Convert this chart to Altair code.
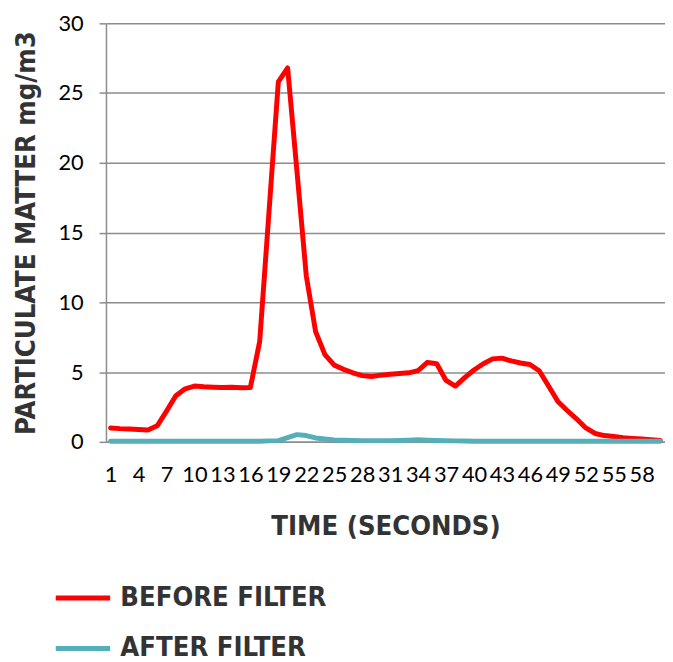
import altair as alt
import pandas as pd

time = list(range(1, 61))
before = [1.0, 0.95, 0.92, 0.88, 0.85, 1.15, 2.2, 3.3, 3.8, 4.0,
          3.95, 3.92, 3.9, 3.92, 3.88, 3.9, 7.2, 16.5, 25.8, 26.8,
          19.4, 11.9, 7.9, 6.25, 5.5, 5.2, 4.95, 4.75, 4.68, 4.78,
          4.85, 4.9, 4.95, 5.1, 5.7, 5.6, 4.4, 4.0, 4.6, 5.15,
          5.6, 5.95, 6.0, 5.8, 5.65, 5.55, 5.1, 4.0, 2.9, 2.25,
          1.65, 1.0, 0.6, 0.45, 0.38, 0.3, 0.25, 0.2, 0.15, 0.1]
after = [0.05, 0.05, 0.05, 0.05, 0.05, 0.05, 0.05, 0.05, 0.05, 0.05,
         0.05, 0.05, 0.05, 0.05, 0.05, 0.05, 0.05, 0.07, 0.09, 0.3,
         0.52, 0.45, 0.28, 0.2, 0.14, 0.12, 0.1, 0.09, 0.09, 0.09,
         0.09, 0.1, 0.12, 0.15, 0.12, 0.1, 0.08, 0.07, 0.06, 0.05,
         0.05, 0.05, 0.05, 0.05, 0.05, 0.05, 0.05, 0.05, 0.05, 0.05,
         0.05, 0.05, 0.05, 0.05, 0.05, 0.05, 0.05, 0.05, 0.05, 0.05]
series_names = ["BEFORE FILTER", "AFTER FILTER"]
series_colors = ["#FF0000", "#55AFB9"]
x_tick_values = list(range(1, 59, 3))
y_tick_values = [0, 5, 10, 15, 20, 25, 30]

df = pd.concat([
    pd.DataFrame({"time": time, "value": before, "series": series_names[0]}),
    pd.DataFrame({"time": time, "value": after, "series": series_names[1]}),
])

title_font = "DejaVu Sans Condensed"
label_font = "Lato"

chart = alt.Chart(df).mark_line(strokeWidth=5, strokeJoin="round", strokeCap="round").encode(
    x=alt.X("time:Q",
            scale=alt.Scale(domain=[0.5, 60.5], nice=False, zero=False),
            axis=alt.Axis(values=x_tick_values, title="TIME (SECONDS)", format="d",
                          grid=False, ticks=False, labelOverlap=False, labelFlush=False,
                          labelPadding=23, titlePadding=28)),
    y=alt.Y("value:Q",
            scale=alt.Scale(domain=[0, 30], nice=False),
            axis=alt.Axis(values=y_tick_values, title="PARTICULATE MATTER mg/m3",
                          tickSize=7, labelPadding=16, titlePadding=18)),
    color=alt.Color("series:N",
                    scale=alt.Scale(domain=series_names, range=series_colors),
                    sort=series_names,
                    legend=alt.Legend(title=None, orient="none", legendX=-37, legendY=567,
                                      direction="vertical",
                                      symbolType="M-3,0H3", symbolSize=336,
                                      symbolStrokeWidth=5, labelOffset=24,
                                      rowPadding=22, padding=0,
                                      labelFont=title_font, labelFontSize=27.5,
                                      labelFontWeight="bold", labelColor="#333333",
                                      labelLimit=400)),
    order=alt.Order("time:Q"),
).properties(
    width=565, height=423,
    autosize=alt.AutoSizeParams(type="none"),
    padding={"left": 99, "top": 12, "right": 0, "bottom": 219},
).configure_view(
    stroke=None
).configure_axis(
    labelFont=label_font, labelFontSize=22, labelColor="#000000",
    titleFont=title_font, titleFontSize=27.5, titleFontWeight="bold", titleColor="#333333",
    domainColor="#8c8c8c", domainWidth=1.5, tickColor="#8c8c8c", tickWidth=1.5,
    gridColor="#8c8c8c", gridWidth=1.5,
)

chart.save("out.html", embed_options={"renderer": "svg", "actions": False})
